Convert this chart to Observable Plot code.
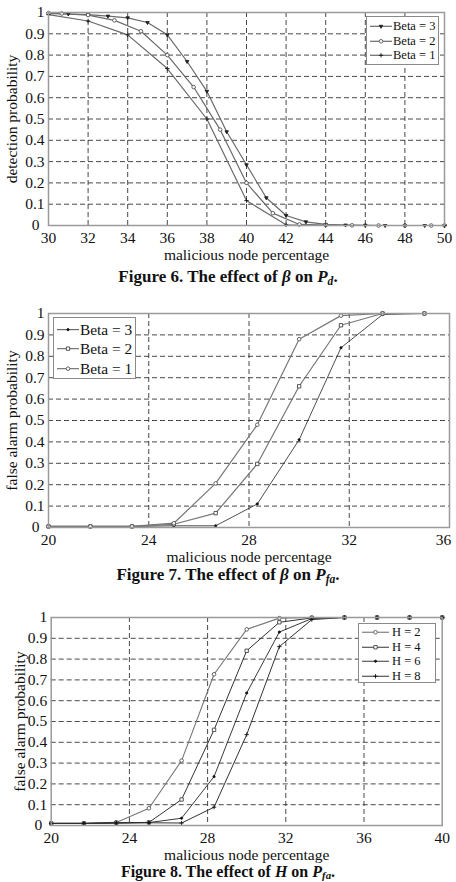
<!DOCTYPE html>
<html>
<head>
<meta charset="utf-8">
<script src="https://cdn.jsdelivr.net/npm/d3@7"></script>
<script src="https://cdn.jsdelivr.net/npm/@observablehq/plot@0.6"></script>
<style>
  body { margin: 0; background: #fff; }
  #page { position: relative; width: 456px; height: 882px; overflow: hidden;
          font-family: "Liberation Serif", "Times New Roman", serif; color: #111; }
  .panel { position: absolute; left: 0; }
  .caption { position: absolute; left: 0; width: 456px; text-align: center;
             font-weight: bold; font-size: 17px; line-height: 17px; color: #111; }
  .caption sub { font-size: 0.68em; vertical-align: -0.22em; line-height: 0; }
  .legend { position: absolute; background: #fff; border: 1.2px solid #8a8a8a; box-sizing: border-box; }
  .legend .row { display: flex; align-items: center; white-space: nowrap; overflow: visible; }
  .legend .row span { display: block; overflow: visible; }
  .legend svg { display: block; flex: none; }
</style>
</head>
<body>
<div id="page"></div>
<script>
// ---- Figure 6: detection probability for three values of Beta ----
const fig6BetaNames = ["Beta = 3", "Beta = 2", "Beta = 1"];
const fig6Beta3X = [30, 31, 32, 33, 34, 35, 36, 37, 38, 39, 40, 41, 42, 43, 44, 45, 46, 47, 48, 49, 50];
const fig6Beta3Y = [0.995, 0.993, 0.99, 0.983, 0.975, 0.953, 0.895, 0.77, 0.63, 0.44, 0.285, 0.13, 0.047, 0.017, 0.005, 0.002, 0.001, 0, 0, 0, 0];
const fig6Beta2X = [30, 30.67, 32, 33.33, 34.67, 36, 37.33, 38.67, 40, 41.33, 42.67, 44, 45.33, 46.67, 48, 49.33, 50];
const fig6Beta2Y = [0.997, 0.995, 0.988, 0.963, 0.912, 0.80, 0.65, 0.45, 0.20, 0.058, 0.005, 0.002, 0.001, 0, 0, 0, 0];
const fig6Beta1X = [30, 32, 34, 36, 38, 40, 42, 44, 46, 48, 50];
const fig6Beta1Y = [0.99, 0.96, 0.895, 0.737, 0.50, 0.117, 0.003, 0, 0, 0, 0];
const fig6XTicks = [30, 32, 34, 36, 38, 40, 42, 44, 46, 48, 50];

// ---- Figure 7: false alarm probability for three values of Beta ----
const fig7X = [20, 21.67, 23.33, 25, 26.67, 28.33, 30, 31.67, 33.33, 35];
const fig7Beta3Y = [0.005, 0.005, 0.005, 0.008, 0.008, 0.11, 0.41, 0.84, 0.995, 1];
const fig7Beta2Y = [0.005, 0.005, 0.005, 0.015, 0.067, 0.297, 0.66, 0.945, 1, 1];
const fig7Beta1Y = [0.005, 0.005, 0.005, 0.02, 0.206, 0.48, 0.88, 0.99, 1, 1];
const fig7XTicks = [20, 24, 28, 32, 36];

// ---- Figure 8: false alarm probability for four values of H ----
const fig8HNames = ["H = 2", "H = 4", "H = 6", "H = 8"];
const fig8X = [20, 21.67, 23.33, 25, 26.67, 28.33, 30, 31.67, 33.33, 35, 36.67, 38.33, 40];
const fig8H2Y = [0.01, 0.01, 0.015, 0.083, 0.312, 0.727, 0.943, 0.997, 1, 1, 1, 1, 1];
const fig8H4Y = [0.01, 0.01, 0.013, 0.015, 0.125, 0.46, 0.84, 0.977, 0.998, 1, 1, 1, 1];
const fig8H6Y = [0.01, 0.01, 0.012, 0.014, 0.035, 0.235, 0.637, 0.93, 0.995, 1, 1, 1, 1];
const fig8H8Y = [0.01, 0.01, 0.012, 0.013, 0.012, 0.088, 0.437, 0.86, 0.99, 1, 1, 1, 1];
const fig8XTicks = [20, 24, 28, 32, 36, 40];

const probTicks = [0, 0.1, 0.2, 0.3, 0.4, 0.5, 0.6, 0.7, 0.8, 0.9, 1];

const page = document.getElementById("page");
const fmt = d => String(+d.toFixed(1));

// marker styles shared by plot dots and legend samples
const markers = {
  tri:    {symbol: "triangle", r: 1.3, fill: "#222", stroke: "#222", rotate: 180},
  circle: {symbol: "circle", r: 1.8, fill: "#fff", stroke: "#555", rotate: 0},
  square: {symbol: "square", r: 1.9, fill: "#fff", stroke: "#444", rotate: 0},
  dot:    {symbol: "circle", r: 1.1, fill: "#111", stroke: "#111", rotate: 0},
  plus:   {symbol: "plus", r: 1.5, fill: "#111", stroke: "#111", rotate: 0}
};

function drawPanel(cfg) {
  const rows = cfg.series.flatMap(s => s.x.map((x, i) => ({x, y: s.y[i], name: s.name})));
  const inner = v => v > cfg.xDomain[0] && v < cfg.xDomain[1];
  const grid = {stroke: "#333", strokeOpacity: 1, strokeWidth: 0.9, strokeDasharray: "5,3"};
  const marks = [
    Plot.gridX(cfg.xTicks.filter(inner), grid),
    Plot.gridY(probTicks.filter(v => v > 0 && v < 1), grid)
  ];
  for (const s of cfg.series) {
    const pts = rows.filter(r => r.name === s.name);
    marks.push(Plot.line(pts, {x: "x", y: "y", stroke: s.color, strokeWidth: s.width}));
  }
  for (const s of cfg.series) {
    const m = markers[s.marker];
    const pts = rows.filter(r => r.name === s.name);
    marks.push(Plot.dot(pts, {x: "x", y: "y", symbol: m.symbol, r: m.r, fill: m.fill, stroke: m.stroke, strokeWidth: 0.9, rotate: m.rotate}));
  }
  // the last x tick label is pulled inward when it would run past the page edge,
  // and the y "0" label sits a little further left, clear of the first x label
  const lastTick = cfg.xTicks[cfg.xTicks.length - 1];
  const mainTicks = cfg.shiftLast ? cfg.xTicks.slice(0, -1) : cfg.xTicks;
  marks.push(
    Plot.frame({stroke: "#9a9a9a", strokeWidth: 1.5}),
    Plot.axisX(mainTicks, {tickSize: 0, tickPadding: 6, tickFormat: d => String(d),
      label: "malicious node percentage", labelAnchor: "center", labelOffset: cfg.xLabelOffset, labelArrow: "none"}),
    Plot.axisY(probTicks.slice(1), {tickSize: 0, tickPadding: 4, tickFormat: fmt,
      label: cfg.yLabel, labelAnchor: "center", labelOffset: cfg.yLabelOffset, labelArrow: "none"}),
    Plot.axisY(probTicks.slice(0, 1), {tickSize: 0, tickPadding: 4, tickFormat: fmt, dx: -5, label: null})
  );
  if (cfg.shiftLast) {
    marks.push(Plot.axisX([lastTick], {tickSize: 0, tickPadding: 6, tickFormat: d => String(d), dx: -6, label: null}));
  }
  const svg = Plot.plot({
    width: 456, height: cfg.height,
    marginTop: cfg.mt, marginBottom: cfg.mb, marginLeft: cfg.ml, marginRight: cfg.mr,
    style: {fontFamily: '"Liberation Serif", "Times New Roman", serif', fontSize: "15.5px", color: "#111", background: "transparent", overflow: "visible"},
    x: {domain: cfg.xDomain},
    y: {domain: [0, 1]},
    marks
  });
  const wrap = document.createElement("div");
  wrap.className = "panel";
  wrap.style.top = cfg.top + "px";
  wrap.appendChild(svg);
  page.appendChild(wrap);
}

function drawLegend(cfg) {
  const box = document.createElement("div");
  box.className = "legend";
  Object.assign(box.style, {left: cfg.left + "px", top: cfg.top + "px", width: cfg.width + "px", height: cfg.height + "px",
    padding: cfg.pad, fontSize: cfg.fontSize + "px"});
  for (const s of cfg.series) {
    const m = markers[s.marker];
    const row = document.createElement("div");
    row.className = "row";
    row.style.height = cfg.rowH + "px";
    const w = cfg.sampleW, h = cfg.rowH, cx = w / 2, cy = h / 2;
    const type = m.symbol === "square" ? d3.symbolSquare : m.symbol === "triangle" ? d3.symbolTriangle : m.symbol === "plus" ? d3.symbolPlus : d3.symbolCircle;
    const sym = d3.symbol(type, Math.PI * m.r * m.r)();
    row.innerHTML =
      `<svg width="${w}" height="${h}"><line x1="0" x2="${w}" y1="${cy}" y2="${cy}" stroke="${s.color}" stroke-width="${s.width}"/>` +
      `<path d="${sym}" transform="translate(${cx},${cy}) rotate(${m.rotate})" fill="${m.fill}" stroke="${m.stroke}" stroke-width="0.9"/></svg>` +
      `<span style="margin-left:${cfg.gap}px;height:${cfg.rowH}px;line-height:${cfg.rowH}px">${s.name}</span>`;
    box.appendChild(row);
  }
  page.appendChild(box);
}

function drawCaption(top, html, size) {
  const c = document.createElement("div");
  c.className = "caption";
  c.style.top = top + "px";
  if (size) { c.style.fontSize = size + "px"; c.style.lineHeight = size + "px"; }
  c.innerHTML = html;
  page.appendChild(c);
}

// Figure 6
const fig6Series = [
  {name: fig6BetaNames[0], x: fig6Beta3X, y: fig6Beta3Y, color: "#6a6a6a", width: 1.2, marker: "tri"},
  {name: fig6BetaNames[1], x: fig6Beta2X, y: fig6Beta2Y, color: "#6a6a6a", width: 1.2, marker: "circle"},
  {name: fig6BetaNames[2], x: fig6Beta1X, y: fig6Beta1Y, color: "#6a6a6a", width: 1.2, marker: "plus"}
];
drawPanel({top: 0, height: 262, mt: 12, mb: 37, ml: 48, mr: 12, xDomain: [30, 50], xTicks: fig6XTicks,
  yLabel: "detection probability", yLabelOffset: 43, xLabelOffset: 34, series: fig6Series});
drawLegend({left: 366, top: 16, width: 73, height: 49, pad: "2px 0 0 3px", fontSize: 12.5, rowH: 14.6, sampleW: 22, gap: 1, series: fig6Series});
drawCaption(268, 'Figure 6. The effect of <i>β</i> on <i>P</i><sub><i>d</i></sub>.');

// Figure 7
const fig7Series = [
  {name: fig6BetaNames[0], x: fig7X, y: fig7Beta3Y, color: "#222", width: 0.8, marker: "dot"},
  {name: fig6BetaNames[1], x: fig7X, y: fig7Beta2Y, color: "#777", width: 1.2, marker: "square"},
  {name: fig6BetaNames[2], x: fig7X, y: fig7Beta1Y, color: "#777", width: 1.2, marker: "circle"}
];
drawPanel({top: 300, height: 265, mt: 13, mb: 38, ml: 48, mr: 7, xDomain: [20, 36], xTicks: fig7XTicks, shiftLast: true,
  yLabel: "false alarm probability", yLabelOffset: 43, xLabelOffset: 34, series: fig7Series});
drawLegend({left: 53, top: 317, width: 83, height: 62, pad: "2px 0 0 3px", fontSize: 15.4, rowH: 19.3, sampleW: 22, gap: 1, series: fig7Series});
drawCaption(566, 'Figure 7. The effect of <i>β</i> on <i>P</i><sub><i>fa</i></sub>.');

// Figure 8
const fig8Series = [
  {name: fig8HNames[0], x: fig8X, y: fig8H2Y, color: "#777", width: 1.1, marker: "circle"},
  {name: fig8HNames[1], x: fig8X, y: fig8H4Y, color: "#333", width: 1.0, marker: "square"},
  {name: fig8HNames[2], x: fig8X, y: fig8H6Y, color: "#222", width: 0.9, marker: "dot"},
  {name: fig8HNames[3], x: fig8X, y: fig8H8Y, color: "#333", width: 1.0, marker: "plus"}
];
drawPanel({top: 602, height: 262, mt: 15, mb: 39, ml: 50.7, mr: 14.3, xDomain: [20, 40], xTicks: fig8XTicks,
  yLabel: "false alarm probability", yLabelOffset: 37, xLabelOffset: 34, series: fig8Series});
drawLegend({left: 358, top: 623, width: 78, height: 60, pad: "1px 0 0 3px", fontSize: 12.5, rowH: 14.5, sampleW: 27, gap: 3, series: fig8Series});
drawCaption(864, 'Figure 8. The effect of <i>H</i> on <i>P</i><sub><i>fa</i></sub>.', 16);
</script>
</body>
</html>
